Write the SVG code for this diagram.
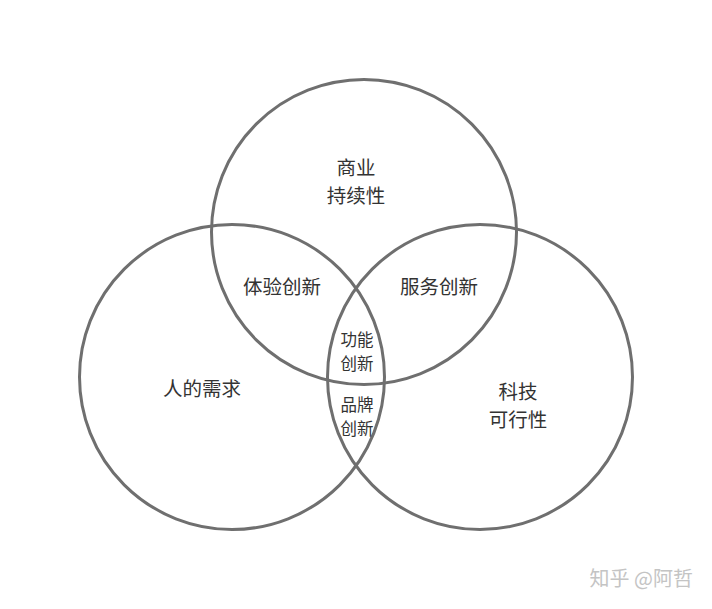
<svg xmlns="http://www.w3.org/2000/svg" width="712" height="609" viewBox="0 0 712 609">
<style>
.c{fill:none;stroke:#6f6f6f;stroke-width:3}
.t{font-family:"Noto Sans CJK SC","Noto Sans",sans-serif;fill:#333;text-anchor:middle;dominant-baseline:central}
.l{font-size:19.5px}
.s{font-size:16.5px}
.w{font-family:"Noto Sans CJK SC","Noto Sans",sans-serif;font-size:20px;fill:#c4c4c4;text-anchor:end;dominant-baseline:central}
</style>
<rect width="712" height="609" fill="#fff"/>
<g id="top"><circle class="c" cx="364" cy="232" r="152.5"/>
<text class="t l" x="356" y="166">商业</text><text class="t l" x="356" y="194">持续性</text></g>
<g id="left"><circle class="c" cx="232" cy="377" r="152.5"/>
<text class="t l" x="202" y="387">人的需求</text></g>
<g id="right"><circle class="c" cx="480" cy="377" r="152.5"/>
<text class="t l" x="518" y="390">科技</text><text class="t l" x="518" y="418">可行性</text></g>
<g id="experience"><text class="t l" x="282" y="285">体验创新</text></g>
<g id="service"><text class="t l" x="439" y="285">服务创新</text></g>
<g id="function"><text class="t s" x="357" y="339">功能</text><text class="t s" x="357" y="363">创新</text></g>
<g id="brand"><text class="t s" x="357" y="404">品牌</text><text class="t s" x="357" y="428">创新</text></g>
<text class="w" x="693" y="577">知乎 @阿哲</text>
</svg>
